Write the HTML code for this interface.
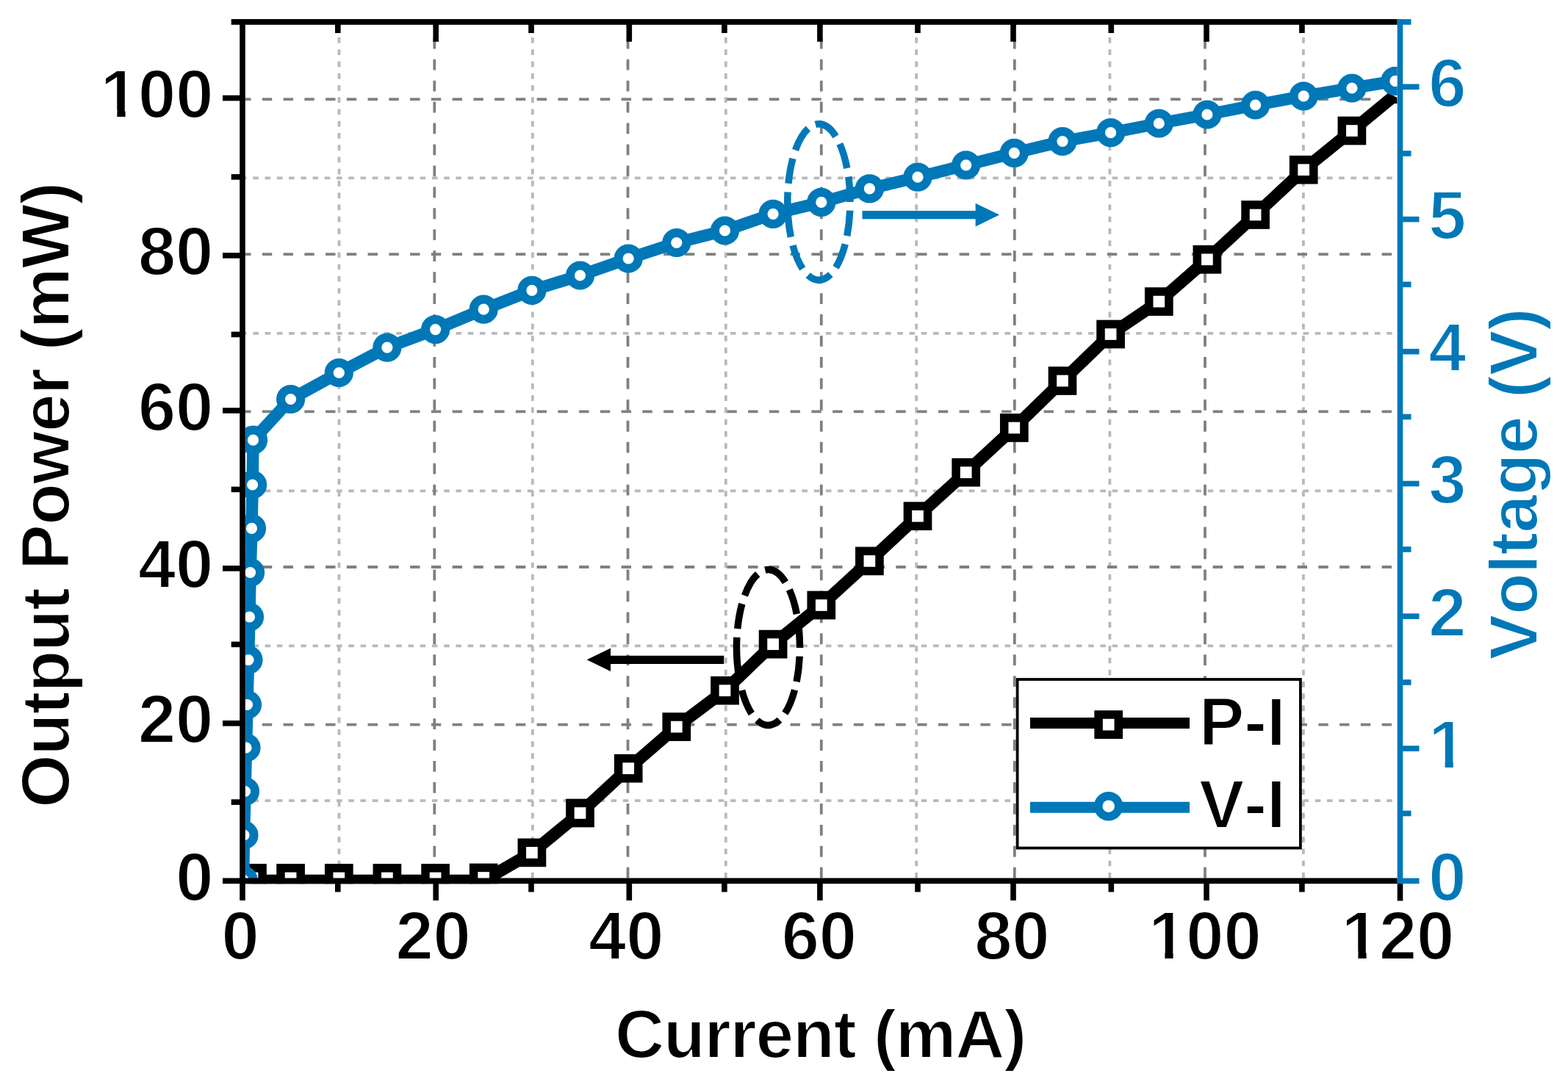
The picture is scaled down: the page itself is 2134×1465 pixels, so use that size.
<!DOCTYPE html>
<html lang="en"><head><meta charset="utf-8"><title>P-I and V-I characteristics</title>
<style>html,body{margin:0;padding:0;background:#fff;width:2134px;height:1465px;overflow:hidden}svg{display:block}</style>
</head><body>
<svg width="2134" height="1465" viewBox="0 0 2134 1465">
<rect width="2134" height="1465" fill="#fff"/>
<defs><clipPath id="pc"><rect x="333.8" y="33.7" width="1567.9" height="1169.5"/></clipPath></defs>
<g fill="none" stroke-width="3.8">
<line x1="461.5" y1="1195.6" x2="461.5" y2="33.7" stroke="#B9B9BD" stroke-dasharray="7.7 8.54"/>
<line x1="724.8" y1="1195.6" x2="724.8" y2="33.7" stroke="#B9B9BD" stroke-dasharray="7.7 8.54"/>
<line x1="987.8" y1="1195.6" x2="987.8" y2="33.7" stroke="#B9B9BD" stroke-dasharray="7.7 8.54"/>
<line x1="1247.2" y1="1195.6" x2="1247.2" y2="33.7" stroke="#B9B9BD" stroke-dasharray="7.7 8.54"/>
<line x1="1510.4" y1="1195.6" x2="1510.4" y2="33.7" stroke="#B9B9BD" stroke-dasharray="7.7 8.54"/>
<line x1="1773.9" y1="1195.6" x2="1773.9" y2="33.7" stroke="#B9B9BD" stroke-dasharray="7.7 8.54"/>
<line x1="328.1" y1="1090.2" x2="1901.7" y2="1090.2" stroke="#B9B9BD" stroke-dasharray="7.6 8.64"/>
<line x1="328.1" y1="879.3" x2="1901.7" y2="879.3" stroke="#B9B9BD" stroke-dasharray="7.6 8.64"/>
<line x1="328.1" y1="668.3" x2="1901.7" y2="668.3" stroke="#B9B9BD" stroke-dasharray="7.6 8.64"/>
<line x1="328.1" y1="453.9" x2="1901.7" y2="453.9" stroke="#B9B9BD" stroke-dasharray="7.6 8.64"/>
<line x1="328.1" y1="242.4" x2="1901.7" y2="242.4" stroke="#B9B9BD" stroke-dasharray="7.6 8.64"/>
<line x1="591.3" y1="1195.6" x2="591.3" y2="33.7" stroke="#808080" stroke-dasharray="14.8 14.15"/>
<line x1="854.5" y1="1195.6" x2="854.5" y2="33.7" stroke="#808080" stroke-dasharray="14.8 14.15"/>
<line x1="1117.8" y1="1195.6" x2="1117.8" y2="33.7" stroke="#808080" stroke-dasharray="14.8 14.15"/>
<line x1="1380.8" y1="1195.6" x2="1380.8" y2="33.7" stroke="#808080" stroke-dasharray="14.8 14.15"/>
<line x1="1640.0" y1="1195.6" x2="1640.0" y2="33.7" stroke="#808080" stroke-dasharray="14.8 14.15"/>
<line x1="328.1" y1="986.7" x2="1901.7" y2="986.7" stroke="#808080" stroke-dasharray="13.4 15.35"/>
<line x1="328.1" y1="772.0" x2="1901.7" y2="772.0" stroke="#808080" stroke-dasharray="13.4 15.35"/>
<line x1="328.1" y1="560.4" x2="1901.7" y2="560.4" stroke="#808080" stroke-dasharray="13.4 15.35"/>
<line x1="328.1" y1="346.2" x2="1901.7" y2="346.2" stroke="#808080" stroke-dasharray="13.4 15.35"/>
<line x1="328.1" y1="135.1" x2="1901.7" y2="135.1" stroke="#808080" stroke-dasharray="13.4 15.35"/>
</g>
<g clip-path="url(#pc)">
<polyline fill="none" stroke="#000" stroke-width="16.5" stroke-linejoin="round" points="343.5,1199.0 395.6,1199.0 461.3,1199.0 526.9,1199.0 592.6,1199.0 658.2,1199.0 723.9,1160.9 789.5,1107.0 855.2,1046.2 920.8,989.6 986.5,940.2 1052.1,877.1 1117.8,824.0 1183.4,763.9 1249.0,702.7 1314.7,643.2 1380.3,582.5 1446.0,518.5 1511.6,455.0 1577.3,410.6 1642.9,353.3 1708.6,292.5 1774.2,231.2 1839.9,178.0 1894.3,133.2"/>
<path d="M1888.2 126.1L1901.6 133V140.9H1892Z" fill="#000"/>
<rect x="329.9" y="1181.9" width="27.2" height="27.2" fill="#fff" stroke="#000" stroke-width="11.5"/>
<rect x="382.0" y="1181.9" width="27.2" height="27.2" fill="#fff" stroke="#000" stroke-width="11.5"/>
<rect x="447.7" y="1181.9" width="27.2" height="27.2" fill="#fff" stroke="#000" stroke-width="11.5"/>
<rect x="513.3" y="1181.9" width="27.2" height="27.2" fill="#fff" stroke="#000" stroke-width="11.5"/>
<rect x="579.0" y="1181.9" width="27.2" height="27.2" fill="#fff" stroke="#000" stroke-width="11.5"/>
<rect x="644.6" y="1181.4" width="27.2" height="27.2" fill="#fff" stroke="#000" stroke-width="11.5"/>
<rect x="710.3" y="1147.3" width="27.2" height="27.2" fill="#fff" stroke="#000" stroke-width="11.5"/>
<rect x="775.9" y="1093.4" width="27.2" height="27.2" fill="#fff" stroke="#000" stroke-width="11.5"/>
<rect x="841.6" y="1032.6" width="27.2" height="27.2" fill="#fff" stroke="#000" stroke-width="11.5"/>
<rect x="907.2" y="976.0" width="27.2" height="27.2" fill="#fff" stroke="#000" stroke-width="11.5"/>
<rect x="972.9" y="926.6" width="27.2" height="27.2" fill="#fff" stroke="#000" stroke-width="11.5"/>
<rect x="1038.5" y="863.5" width="27.2" height="27.2" fill="#fff" stroke="#000" stroke-width="11.5"/>
<rect x="1104.2" y="810.4" width="27.2" height="27.2" fill="#fff" stroke="#000" stroke-width="11.5"/>
<rect x="1169.8" y="750.3" width="27.2" height="27.2" fill="#fff" stroke="#000" stroke-width="11.5"/>
<rect x="1235.4" y="689.1" width="27.2" height="27.2" fill="#fff" stroke="#000" stroke-width="11.5"/>
<rect x="1301.1" y="629.6" width="27.2" height="27.2" fill="#fff" stroke="#000" stroke-width="11.5"/>
<rect x="1366.7" y="568.9" width="27.2" height="27.2" fill="#fff" stroke="#000" stroke-width="11.5"/>
<rect x="1432.4" y="504.9" width="27.2" height="27.2" fill="#fff" stroke="#000" stroke-width="11.5"/>
<rect x="1498.0" y="441.4" width="27.2" height="27.2" fill="#fff" stroke="#000" stroke-width="11.5"/>
<rect x="1563.7" y="397.0" width="27.2" height="27.2" fill="#fff" stroke="#000" stroke-width="11.5"/>
<rect x="1629.3" y="339.7" width="27.2" height="27.2" fill="#fff" stroke="#000" stroke-width="11.5"/>
<rect x="1695.0" y="278.9" width="27.2" height="27.2" fill="#fff" stroke="#000" stroke-width="11.5"/>
<rect x="1760.6" y="217.6" width="27.2" height="27.2" fill="#fff" stroke="#000" stroke-width="11.5"/>
<rect x="1826.3" y="164.4" width="27.2" height="27.2" fill="#fff" stroke="#000" stroke-width="11.5"/>
<polyline fill="none" stroke="#0078B8" stroke-width="16.5" stroke-linejoin="round" points="331.0,1198.0 332.0,1137.0 333.5,1077.5 335.0,1018.0 336.5,959.5 338.0,898.5 339.5,840.0 340.6,779.5 342.5,719.4 343.6,660.0 344.5,599.2 395.6,543.5 461.3,507.5 526.9,473.1 592.6,448.6 658.2,421.2 723.9,395.4 789.5,375.0 855.2,352.0 920.8,330.5 986.5,314.0 1052.1,291.3 1117.8,275.4 1183.4,256.9 1249.0,241.2 1314.7,224.8 1380.3,208.3 1446.0,192.5 1511.6,180.7 1577.3,168.0 1642.9,156.0 1708.6,143.0 1774.2,130.9 1839.9,120.0 1898.9,110.4"/>
<circle cx="331.0" cy="1198.0" r="13.6" fill="#fff" stroke="#0078B8" stroke-width="12"/>
<circle cx="332.0" cy="1137.0" r="13.6" fill="#fff" stroke="#0078B8" stroke-width="12"/>
<circle cx="333.5" cy="1077.5" r="13.6" fill="#fff" stroke="#0078B8" stroke-width="12"/>
<circle cx="335.0" cy="1018.0" r="13.6" fill="#fff" stroke="#0078B8" stroke-width="12"/>
<circle cx="336.5" cy="959.5" r="13.6" fill="#fff" stroke="#0078B8" stroke-width="12"/>
<circle cx="338.0" cy="898.5" r="13.6" fill="#fff" stroke="#0078B8" stroke-width="12"/>
<circle cx="339.5" cy="840.0" r="13.6" fill="#fff" stroke="#0078B8" stroke-width="12"/>
<circle cx="340.6" cy="779.5" r="13.6" fill="#fff" stroke="#0078B8" stroke-width="12"/>
<circle cx="342.5" cy="719.4" r="13.6" fill="#fff" stroke="#0078B8" stroke-width="12"/>
<circle cx="343.6" cy="660.0" r="13.6" fill="#fff" stroke="#0078B8" stroke-width="12"/>
<circle cx="344.5" cy="599.2" r="13.6" fill="#fff" stroke="#0078B8" stroke-width="12"/>
<circle cx="395.6" cy="543.5" r="13.6" fill="#fff" stroke="#0078B8" stroke-width="12"/>
<circle cx="461.3" cy="507.5" r="13.6" fill="#fff" stroke="#0078B8" stroke-width="12"/>
<circle cx="526.9" cy="473.1" r="13.6" fill="#fff" stroke="#0078B8" stroke-width="12"/>
<circle cx="592.6" cy="448.6" r="13.6" fill="#fff" stroke="#0078B8" stroke-width="12"/>
<circle cx="658.2" cy="421.2" r="13.6" fill="#fff" stroke="#0078B8" stroke-width="12"/>
<circle cx="723.9" cy="395.4" r="13.6" fill="#fff" stroke="#0078B8" stroke-width="12"/>
<circle cx="789.5" cy="375.0" r="13.6" fill="#fff" stroke="#0078B8" stroke-width="12"/>
<circle cx="855.2" cy="352.0" r="13.6" fill="#fff" stroke="#0078B8" stroke-width="12"/>
<circle cx="920.8" cy="330.5" r="13.6" fill="#fff" stroke="#0078B8" stroke-width="12"/>
<circle cx="986.5" cy="314.0" r="13.6" fill="#fff" stroke="#0078B8" stroke-width="12"/>
<circle cx="1052.1" cy="291.3" r="13.6" fill="#fff" stroke="#0078B8" stroke-width="12"/>
<circle cx="1117.8" cy="275.4" r="13.6" fill="#fff" stroke="#0078B8" stroke-width="12"/>
<circle cx="1183.4" cy="256.9" r="13.6" fill="#fff" stroke="#0078B8" stroke-width="12"/>
<circle cx="1249.0" cy="241.2" r="13.6" fill="#fff" stroke="#0078B8" stroke-width="12"/>
<circle cx="1314.7" cy="224.8" r="13.6" fill="#fff" stroke="#0078B8" stroke-width="12"/>
<circle cx="1380.3" cy="208.3" r="13.6" fill="#fff" stroke="#0078B8" stroke-width="12"/>
<circle cx="1446.0" cy="192.5" r="13.6" fill="#fff" stroke="#0078B8" stroke-width="12"/>
<circle cx="1511.6" cy="180.7" r="13.6" fill="#fff" stroke="#0078B8" stroke-width="12"/>
<circle cx="1577.3" cy="168.0" r="13.6" fill="#fff" stroke="#0078B8" stroke-width="12"/>
<circle cx="1642.9" cy="156.0" r="13.6" fill="#fff" stroke="#0078B8" stroke-width="12"/>
<circle cx="1708.6" cy="143.0" r="13.6" fill="#fff" stroke="#0078B8" stroke-width="12"/>
<circle cx="1774.2" cy="130.9" r="13.6" fill="#fff" stroke="#0078B8" stroke-width="12"/>
<circle cx="1839.9" cy="120.0" r="13.6" fill="#fff" stroke="#0078B8" stroke-width="12"/>
<circle cx="1898.9" cy="110.4" r="13.6" fill="#fff" stroke="#0078B8" stroke-width="12"/>
</g>
<path d="M1003.33 902.24A43 105.8 0 1 1 1087.67 860.76A43 105.8 0 1 1 1003.33 902.24" fill="none" stroke="#000" stroke-width="9.5" stroke-dasharray="34.5 11.7"/>
<path d="M1072.64 296.01A42.6 106.2 0 1 1 1156.16 253.99A42.6 106.2 0 1 1 1072.64 296.01" fill="none" stroke="#0078B8" stroke-width="9.5" stroke-dasharray="34.5 11.7"/>
<path d="M985.3 898.3H826" stroke="#000" stroke-width="11.2" fill="none"/>
<path d="M798.6 898.3L831 882.5V914.1Z" fill="#000"/>
<path d="M1173.5 292.6H1332" stroke="#0078B8" stroke-width="11.2" fill="none"/>
<path d="M1360.2 292.6L1327.6 276.8V308.4Z" fill="#0078B8"/>
<g stroke="#000" stroke-width="7.6" fill="none">
<line x1="330.0" y1="26.1" x2="330.0" y2="1226"/>
<line x1="314.7" y1="29.9" x2="1901.7" y2="29.9"/>
<line x1="303" y1="1199.4" x2="1901.7" y2="1199.4"/>
<line x1="459.8" y1="1199.4" x2="459.8" y2="1214.5"/>
<line x1="459.8" y1="29.9" x2="459.8" y2="45"/>
<line x1="593.2" y1="1199.4" x2="593.2" y2="1226"/>
<line x1="593.2" y1="29.9" x2="593.2" y2="56.8"/>
<line x1="723.0" y1="1199.4" x2="723.0" y2="1214.5"/>
<line x1="723.0" y1="29.9" x2="723.0" y2="45"/>
<line x1="856.3" y1="1199.4" x2="856.3" y2="1226"/>
<line x1="856.3" y1="29.9" x2="856.3" y2="56.8"/>
<line x1="985.9" y1="1199.4" x2="985.9" y2="1214.5"/>
<line x1="985.9" y1="29.9" x2="985.9" y2="45"/>
<line x1="1115.9" y1="1199.4" x2="1115.9" y2="1226"/>
<line x1="1115.9" y1="29.9" x2="1115.9" y2="56.8"/>
<line x1="1249.0" y1="1199.4" x2="1249.0" y2="1214.5"/>
<line x1="1249.0" y1="29.9" x2="1249.0" y2="45"/>
<line x1="1379.0" y1="1199.4" x2="1379.0" y2="1226"/>
<line x1="1379.0" y1="29.9" x2="1379.0" y2="56.8"/>
<line x1="1512.3" y1="1199.4" x2="1512.3" y2="1214.5"/>
<line x1="1512.3" y1="29.9" x2="1512.3" y2="45"/>
<line x1="1642.0" y1="1199.4" x2="1642.0" y2="1226"/>
<line x1="1642.0" y1="29.9" x2="1642.0" y2="56.8"/>
<line x1="1771.9" y1="1199.4" x2="1771.9" y2="1214.5"/>
<line x1="1771.9" y1="29.9" x2="1771.9" y2="45"/>
<line x1="1905.5" y1="1199.4" x2="1905.5" y2="1226.5"/>
<line x1="314.7" y1="1092.1" x2="330.0" y2="1092.1"/>
<line x1="303" y1="984.8" x2="330.0" y2="984.8"/>
<line x1="314.7" y1="877.4" x2="330.0" y2="877.4"/>
<line x1="303" y1="773.9" x2="330.0" y2="773.9"/>
<line x1="314.7" y1="666.4" x2="330.0" y2="666.4"/>
<line x1="303" y1="559.0" x2="330.0" y2="559.0"/>
<line x1="314.7" y1="455.4" x2="330.0" y2="455.4"/>
<line x1="303" y1="347.9" x2="330.0" y2="347.9"/>
<line x1="314.7" y1="240.9" x2="330.0" y2="240.9"/>
<line x1="303" y1="133.5" x2="330.0" y2="133.5"/>
</g>
<g stroke="#0078B8" stroke-width="7.6" fill="none">
<line x1="1905.5" y1="26.1" x2="1905.5" y2="1203.2"/>
<line x1="1905.5" y1="1199.4" x2="1931.5" y2="1199.4"/>
<line x1="1905.5" y1="1107.5" x2="1920.5" y2="1107.5"/>
<line x1="1905.5" y1="1019.1" x2="1931.5" y2="1019.1"/>
<line x1="1905.5" y1="929.0" x2="1920.5" y2="929.0"/>
<line x1="1905.5" y1="839.1" x2="1931.5" y2="839.1"/>
<line x1="1905.5" y1="748.0" x2="1920.5" y2="748.0"/>
<line x1="1905.5" y1="658.5" x2="1931.5" y2="658.5"/>
<line x1="1905.5" y1="567.5" x2="1920.5" y2="567.5"/>
<line x1="1905.5" y1="478.7" x2="1931.5" y2="478.7"/>
<line x1="1905.5" y1="387.3" x2="1920.5" y2="387.3"/>
<line x1="1905.5" y1="298.6" x2="1931.5" y2="298.6"/>
<line x1="1905.5" y1="209.0" x2="1920.5" y2="209.0"/>
<line x1="1905.5" y1="118.2" x2="1931.5" y2="118.2"/>
<line x1="1905.5" y1="29.9" x2="1920.5" y2="29.9"/>
</g>
<rect x="1384.6" y="925" width="385.3" height="229.6" fill="#fff" stroke="#000" stroke-width="3.8"/>
<line x1="1402" y1="984.6" x2="1619" y2="984.6" stroke="#000" stroke-width="15"/>
<rect x="1495.1" y="973" width="27.2" height="27.2" fill="#fff" stroke="#000" stroke-width="11.5"/>
<line x1="1402" y1="1099.3" x2="1619" y2="1099.3" stroke="#0078B8" stroke-width="15"/>
<circle cx="1508.7" cy="1097.7" r="14" fill="#fff" stroke="#0078B8" stroke-width="11.5"/>
<g font-family="'Liberation Sans', Arial, Helvetica, sans-serif" font-weight="700" font-size="92px" fill="#000" stroke="#fff" stroke-width="2" style="font-kerning:none">
<text id="lg1" x="1632" y="1015">P-I</text>
<text id="lg2" x="1632" y="1126.5">V-I</text>
<text class="xt" x="327.0" y="1306" text-anchor="middle">0</text>
<text class="xt" x="589.6" y="1306" text-anchor="middle">20</text>
<text class="xt" x="852.2" y="1306" text-anchor="middle">40</text>
<text class="xt" x="1114.8" y="1306" text-anchor="middle">60</text>
<text class="xt" x="1377.3" y="1306" text-anchor="middle">80</text>
<text class="xt" x="1639.9" y="1306" text-anchor="middle">100</text>
<text class="xt" x="1902.5" y="1306" text-anchor="middle">120</text>
<text class="yt" x="290.3" y="1225.9" text-anchor="end">0</text>
<text class="yt" x="290.3" y="1011.3" text-anchor="end">20</text>
<text class="yt" x="290.3" y="800.4" text-anchor="end">40</text>
<text class="yt" x="290.3" y="585.5" text-anchor="end">60</text>
<text class="yt" x="290.3" y="374.4" text-anchor="end">80</text>
<text class="yt" x="290.3" y="160.0" text-anchor="end">100</text>
<text id="xl" x="1116.5" y="1440.4" text-anchor="middle" font-size="93px" letter-spacing="-1.2">Current (mA)</text>
<text id="yl" transform="translate(94 674.2) rotate(-90)" text-anchor="middle" font-size="93px" letter-spacing="-1">Output Power (mW)</text>
<g fill="#0078B8">
<text class="rt" x="1944.2" y="1225.9">0</text>
<text class="rt" x="1944.2" y="1045.6">1</text>
<text class="rt" x="1944.2" y="865.6">2</text>
<text class="rt" x="1944.2" y="685.0">3</text>
<text class="rt" x="1944.2" y="505.2">4</text>
<text class="rt" x="1944.2" y="325.1">5</text>
<text class="rt" x="1944.2" y="144.7">6</text>
<text id="rl" transform="translate(2092 659.2) rotate(-90)" text-anchor="middle" font-size="93px" letter-spacing="-0.65">Voltage (V)</text>
</g></g>
<g fill="#fff">
<rect x="141" y="149.5" width="18.4" height="12.5"/><rect x="170.6" y="149.5" width="16.4" height="12.5"/>
<rect x="1567" y="1295.5" width="18.4" height="12.5"/><rect x="1596.6" y="1295.5" width="17.4" height="12.5"/>
<rect x="1830" y="1295.5" width="18.4" height="12.5"/><rect x="1859.6" y="1295.5" width="16.4" height="12.5"/>
<rect x="1948" y="1035.5" width="18.6" height="12.5"/><rect x="1977.8" y="1035.5" width="16.2" height="12.5"/>
</g>
</svg>
</body></html>
